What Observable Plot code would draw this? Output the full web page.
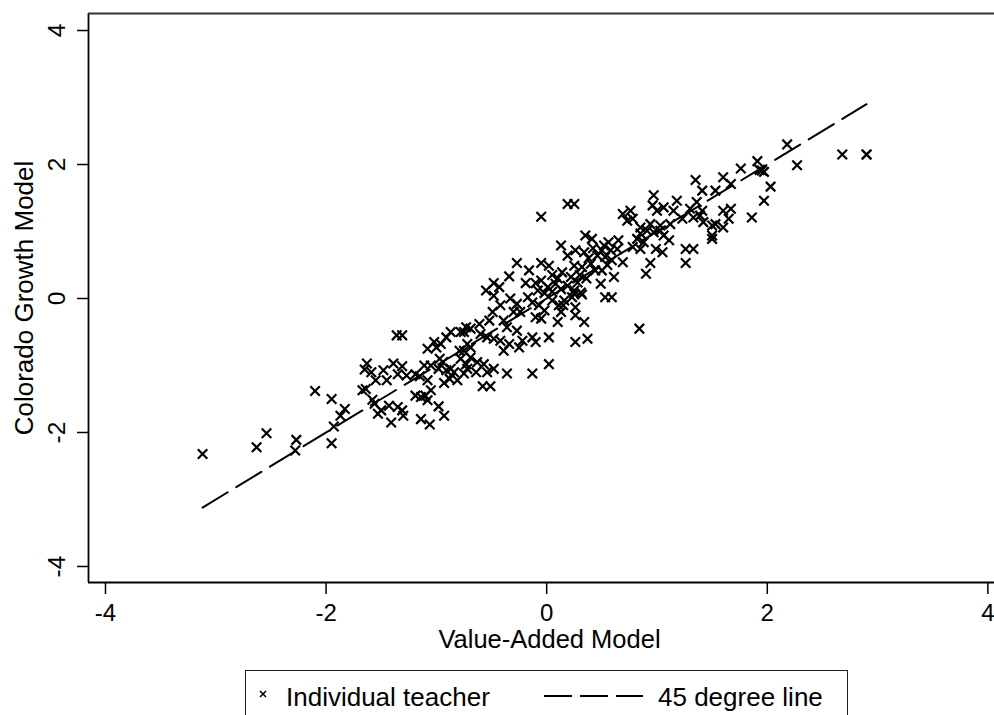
<!DOCTYPE html>
<html>
<head>
<meta charset="utf-8">
<script src="https://cdn.jsdelivr.net/npm/d3@7"></script>
<script src="https://cdn.jsdelivr.net/npm/@observablehq/plot@0.6"></script>
<style>
  html, body { margin: 0; padding: 0; background: white; overflow: hidden; }
  #wrap { position: relative; width: 994px; height: 715px; font-family: "Liberation Sans", Arial, Helvetica, sans-serif; }
  #legend { position: absolute; left: 245px; top: 670px; width: 603px; height: 60px; box-sizing: border-box; border: 1.5px solid #222; }
</style>
</head>
<body>
<div id="wrap"></div>
<script>
// ---- Data ----
const xTitle = "Value-Added Model";
const yTitle = "Colorado Growth Model";
const xTicks = [-4, -2, 0, 2, 4];
const yTicks = [-4, -2, 0, 2, 4];
const xDomain = [-4.154, 4.06];
const yDomain = [-4.239, 4.254];
const legendLabels = ["Individual teacher", "45 degree line"];

// 45 degree line endpoints
const lineX = [-3.12, 2.90];
const lineY = [-3.12, 2.90];

// Individual teacher estimates: value-added (x) and Colorado growth (y)
const valueAdded = [
  -3.12,-2.63,-2.54,-2.27,-2.28,-2.10,-1.95,-1.95,-1.93,-1.87,-1.83,
  -1.36,-1.31,-1.63,-1.65,-1.59,-1.55,-1.64,-1.67,-1.48,-1.45,
  -1.39,-1.35,-1.31,-1.27,-1.19,-1.15,-1.08,-1.11,-1.05,-0.98,
  -0.91,-0.88,-0.81,-0.93,-1.58,-1.56,-1.53,-1.50,-1.43,-1.35,
  -1.31,-1.30,-1.41,-1.19,-1.14,-1.10,-1.05,-1.08,-0.98,-0.93,
  -1.14,-1.06,-1.08,-1.02,-0.96,-0.91,-0.87,-0.78,-0.73,-0.97,
  -0.94,-0.87,-0.84,-0.78,-0.73,-0.79,-0.72,-1.00,
  0.13,0.19,-0.27,-0.05,0.02,-0.16,-0.34,0.14,-0.48,-0.43,
  -0.55,-0.19,-0.10,-0.05,0.01,0.08,0.13,-0.48,-0.42,-0.33,
  -0.27,-0.17,-0.13,-0.07,-0.02,0.05,0.11,0.13,-0.30,-0.24,
  -0.10,-0.05,0.10,-0.49,-0.52,-0.61,-0.69,-0.75,-0.39,-0.36,
  -0.27,-0.60,-0.54,-0.48,-0.42,-0.34,-0.25,-0.22,-0.39,-0.13,
  -0.10,0.02,-0.69,-0.75,-0.69,-0.63,-0.57,-0.72,-0.64,-0.54,
  -0.48,-0.36,-0.13,0.02,-0.58,-0.51,-0.75,
  0.25,0.32,0.26,0.34,0.84,0.26,0.37,
  1.35,1.41,1.53,1.60,1.67,1.76,0.19,0.25,0.97,0.96,
  1.00,1.06,1.18,1.15,0.69,0.76,0.73,0.78,0.85,0.94,
  1.03,1.12,1.23,1.30,1.36,1.33,1.39,1.42,1.50,1.53,
  1.60,1.67,1.65,1.60,1.50,1.50,0.85,0.91,0.97,1.03,
  1.11,1.06,0.99,1.05,1.26,1.33,1.26,0.94,0.90,0.78,
  0.85,0.88,0.82,0.35,0.41,0.52,0.56,0.65,0.64,0.58,
  0.50,0.46,0.53,0.59,0.69,0.26,0.34,0.25,0.32,0.40,
  0.44,0.50,0.61,0.49,0.22,0.28,0.19,0.25,0.31,0.23,
  0.16,0.53,0.59,0.26,0.15,
  2.68,2.90,2.90,2.18,2.27,1.91,1.95,1.97,1.93,2.03,1.97,1.86,1.41,
  -0.05,0.05,-0.02,0.10,0.30,0.38,0.42,0.05,-0.08,0.36,0.55
];
const coloradoGrowth = [
  -2.32,-2.22,-2.01,-2.11,-2.27,-1.38,-1.50,-2.16,-1.91,-1.75,-1.65,
  -0.55,-0.55,-0.97,-1.06,-1.10,-1.22,-1.35,-1.37,-1.07,-1.22,
  -0.97,-1.13,-1.01,-1.15,-1.13,-1.16,-1.22,-1.00,-1.00,-1.05,
  -1.07,-1.20,-1.22,-1.26,-1.51,-1.57,-1.72,-1.67,-1.60,-1.62,
  -1.67,-1.75,-1.85,-1.45,-1.47,-1.45,-1.37,-1.52,-1.61,-1.75,
  -1.80,-1.88,-0.75,-0.65,-0.68,-0.58,-0.50,-0.50,-0.43,-0.90,
  -0.95,-1.05,-1.10,-0.90,-0.98,-0.78,-0.68,-0.73,
  0.79,0.64,0.53,0.53,0.49,0.42,0.33,0.39,0.23,0.17,
  0.12,0.23,0.23,0.27,0.17,0.22,0.14,0.04,-0.10,0.00,
  -0.08,0.02,-0.06,-0.10,-0.18,-0.03,-0.10,-0.20,-0.20,-0.20,
  -0.28,-0.30,-0.35,-0.20,-0.33,-0.38,-0.45,-0.50,-0.33,-0.43,
  -0.48,-0.53,-0.58,-0.60,-0.63,-0.68,-0.73,-0.63,-0.78,-0.58,
  -0.65,-0.58,-0.73,-0.78,-0.88,-0.95,-0.98,-1.05,-1.10,-1.10,
  -1.05,-1.12,-1.12,-0.98,-1.31,-1.31,-1.12,
  0.07,0.06,-0.25,-0.35,-0.45,-0.65,-0.60,
  1.77,1.61,1.61,1.81,1.71,1.94,1.41,1.41,1.54,1.39,
  1.31,1.36,1.46,1.31,1.26,1.31,1.16,1.19,1.06,1.11,
  1.09,1.11,1.19,1.34,1.44,1.21,1.24,1.14,1.09,1.11,
  1.31,1.34,1.19,1.06,0.94,0.89,0.97,1.01,0.99,1.01,
  0.87,0.94,0.74,0.69,0.74,0.74,0.53,0.53,0.37,0.77,
  0.74,0.84,0.89,0.94,0.89,0.79,0.84,0.87,0.74,0.72,
  0.72,0.64,0.62,0.57,0.54,0.72,0.69,0.49,0.47,0.52,
  0.42,0.42,0.32,0.22,0.32,0.24,0.19,0.12,0.09,0.02,
  -0.03,0.02,0.02,-0.13,-0.10,
  2.15,2.15,2.15,2.30,1.99,2.05,1.91,1.89,1.92,1.67,1.46,1.21,1.31,
  1.22,0.10,0.08,0.30,0.35,0.60,0.75,0.35,0.12,0.30,0.50
];

const FONT = '"Liberation Sans", Arial, Helvetica, sans-serif';
const fmt = d => String(d); // plain hyphen minus, as in the reference

const chart = Plot.plot({
  width: 994,
  height: 668,
  marginTop: 13,
  marginBottom: 86,
  marginLeft: 88,
  marginRight: 0,
  x: { domain: xDomain, label: null },
  y: { domain: yDomain, label: null },
  style: { fontFamily: FONT, fontSize: "24px", color: "black", background: "white", overflow: "visible" },
  marks: [
    // plot region outline (left, bottom, top)
    Plot.ruleX([xDomain[0]], { stroke: "black", strokeWidth: 1.8 }),
    Plot.ruleY([yDomain[0]], { stroke: "black", strokeWidth: 1.8 }),
    Plot.ruleY([yDomain[1]], { stroke: "#333", strokeWidth: 1.8 }),
    Plot.axisX({ ticks: xTicks, tickSize: 12, tickPadding: 9, tickFormat: fmt, label: null, fontSize: 24, strokeWidth: 1.5 }),
    Plot.axisY({ ticks: yTicks, tickSize: 11, tickFormat: () => "", label: null, strokeWidth: 1.5 }),
    Plot.text(yTicks, { y: d => d, text: fmt, frameAnchor: "left", rotate: -90, dx: -31, fontSize: 24.5, textAnchor: "middle", lineAnchor: "middle" }),
    Plot.text([yTitle], { text: d => d, frameAnchor: "left", rotate: -90, dx: -64, fontSize: 26, textAnchor: "middle", lineAnchor: "middle" }),
    Plot.text([xTitle], { text: d => d, frameAnchor: "bottom", dx: 8, dy: 57, fontSize: 25.5, textAnchor: "middle", lineAnchor: "middle" }),
    Plot.line(lineX, { x: lineX, y: lineY, stroke: "black", strokeWidth: 2, strokeDasharray: "29.4,10" }),
    Plot.dot(valueAdded, { x: valueAdded, y: coloradoGrowth, symbol: "times", r: 4.4, fill: "none", stroke: "black", strokeWidth: 2.2 })
  ]
});

const wrap = document.getElementById("wrap");
wrap.appendChild(chart);

// Legend below the plot
const legend = document.createElement("div");
legend.id = "legend";
legend.innerHTML = `
<svg width="603" height="60" style="display:block;font-family:${FONT.replace(/"/g, "'")};">
  <path d="M14,20 L20,26 M20,20 L14,26" stroke="black" stroke-width="1.6" fill="none"/>
  <text x="40" y="35" font-size="26" fill="black">${legendLabels[0]}</text>
  <line x1="298" y1="25" x2="397" y2="25" stroke="black" stroke-width="2" stroke-dasharray="28,8"/>
  <text x="412" y="35" font-size="26" fill="black">${legendLabels[1]}</text>
</svg>`;
wrap.appendChild(legend);
</script>
</body>
</html>
